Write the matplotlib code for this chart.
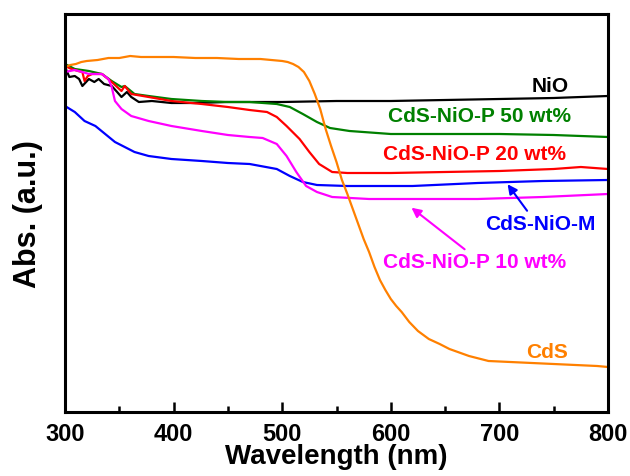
import matplotlib
matplotlib.use("Agg")
import matplotlib.pyplot as plt
from matplotlib.ticker import MultipleLocator

plt.rcParams['font.family'] = ['Liberation Sans', 'DejaVu Sans']
plt.rcParams['font.weight'] = 'bold'

# UV-vis absorption spectra (arbitrary units)
wl_cds = [300, 305, 310, 315, 320, 330, 340, 350, 360, 370, 380, 400, 420, 440, 460, 480,
          490, 500, 505, 510, 515, 520, 525, 530, 535, 540, 545, 550, 555, 560, 565, 570,
          575, 580, 585, 590, 595, 600, 605, 610, 617, 625, 635, 645, 654, 672, 690, 710,
          730, 750, 770, 790, 800]
abs_cds = [3.45, 3.47, 3.48, 3.50, 3.51, 3.52, 3.54, 3.54, 3.56, 3.55, 3.55, 3.55, 3.54, 3.54, 3.53, 3.53,
           3.52, 3.51, 3.50, 3.48, 3.45, 3.40, 3.31, 3.18, 3.03, 2.83, 2.66, 2.50, 2.32, 2.18, 2.03, 1.88,
           1.73, 1.60, 1.45, 1.32, 1.22, 1.13, 1.06, 1.00, 0.90, 0.81, 0.73, 0.68, 0.63, 0.56, 0.51, 0.50,
           0.49, 0.48, 0.47, 0.46, 0.45]

wl_nio = [300, 304, 309, 313, 316, 322, 327, 331, 336, 343, 348, 352, 357, 361, 368, 380,
          398, 420, 450, 500, 550, 600, 650, 700, 750, 800]
abs_nio = [3.45, 3.35, 3.36, 3.33, 3.26, 3.33, 3.30, 3.33, 3.28, 3.26, 3.20, 3.15, 3.20, 3.15, 3.10, 3.11,
           3.09, 3.09, 3.10, 3.10, 3.11, 3.11, 3.12, 3.13, 3.14, 3.16]

wl_p50 = [300, 309, 322, 334, 343, 352, 355, 364, 377, 398, 426, 450, 470, 495, 507, 519,
          532, 544, 562, 600, 700, 750, 800]
abs_p50 = [3.48, 3.43, 3.41, 3.38, 3.31, 3.25, 3.26, 3.18, 3.16, 3.13, 3.11, 3.10, 3.10, 3.08, 3.05, 2.98,
           2.90, 2.84, 2.81, 2.78, 2.78, 2.77, 2.75]

wl_p20 = [300, 306, 312, 316, 318, 321, 325, 334, 343, 352, 355, 361, 377, 398, 426, 450,
          470, 486, 495, 504, 516, 525, 534, 546, 560, 600, 650, 700, 750, 775, 800]
abs_p20 = [3.46, 3.43, 3.41, 3.40, 3.31, 3.36, 3.38, 3.38, 3.30, 3.21, 3.26, 3.18, 3.15, 3.11, 3.08, 3.05,
           3.02, 3.00, 2.95, 2.86, 2.73, 2.60, 2.48, 2.40, 2.39, 2.39, 2.40, 2.41, 2.43, 2.45, 2.43]

wl_m = [300, 309, 318, 328, 337, 346, 355, 364, 377, 398, 426, 450, 470, 495, 507, 519,
        532, 560, 620, 680, 740, 800]
abs_m = [3.06, 3.00, 2.91, 2.86, 2.78, 2.70, 2.65, 2.60, 2.56, 2.53, 2.51, 2.49, 2.48, 2.43, 2.36, 2.30,
         2.27, 2.26, 2.26, 2.29, 2.31, 2.32]

wl_p10 = [300, 309, 316, 322, 334, 340, 343, 346, 352, 361, 377, 398, 426, 450, 470, 482,
          495, 504, 513, 522, 532, 546, 580, 680, 740, 800]
abs_p10 = [3.40, 3.42, 3.40, 3.38, 3.38, 3.33, 3.25, 3.11, 3.03, 2.96, 2.91, 2.86, 2.81, 2.77, 2.75, 2.74,
           2.68, 2.56, 2.40, 2.26, 2.20, 2.15, 2.13, 2.13, 2.15, 2.18]

x_ticks = [300, 400, 500, 600, 700, 800]

fig = plt.figure(figsize=(6.3, 4.77), dpi=100)
ax = fig.add_axes([65 / 630, 64 / 477, 543 / 630, 398 / 477])

lw = 1.6
ax.plot(wl_nio, abs_nio, color='black', lw=lw)
ax.plot(wl_p50, abs_p50, color='#008000', lw=lw)
ax.plot(wl_p20, abs_p20, color='#FF0000', lw=lw)
ax.plot(wl_m, abs_m, color='#0000FF', lw=lw)
ax.plot(wl_p10, abs_p10, color='#FF00FF', lw=lw)
ax.plot(wl_cds, abs_cds, color='#FF8000', lw=lw)

ax.set_xlim(300, 800)
ax.set_ylim(0, 3.98)
ax.set_xticks(x_ticks)
ax.xaxis.set_minor_locator(MultipleLocator(50))
ax.set_yticks([])
ax.tick_params(axis='x', which='major', direction='in', length=7, width=1.8,
               labelsize=17, pad=7)
ax.tick_params(axis='x', which='minor', direction='in', length=4, width=1.8)
for lab in ax.get_xticklabels():
    lab.set_fontweight('bold')
for sp in ax.spines.values():
    sp.set_linewidth(2.2)

ax.set_xlabel('Wavelength (nm)', fontsize=20, fontweight='bold', labelpad=-1)
ax.set_ylabel('Abs. (a.u.)', fontsize=22, fontweight='bold', labelpad=16)

fs = 15
ax.text(746.7, 3.27, 'NiO', color='black', fontsize=fs, fontweight='bold', ha='center', va='center')
ax.text(682, 2.97, 'CdS-NiO-P 50 wt%', color='#008000', fontsize=fs, fontweight='bold', ha='center', va='center')
ax.text(677, 2.58, 'CdS-NiO-P 20 wt%', color='#FF0000', fontsize=fs, fontweight='bold', ha='center', va='center')
ax.text(677, 1.50, 'CdS-NiO-P 10 wt%', color='#FF00FF', fontsize=fs, fontweight='bold', ha='center', va='center')
ax.text(738, 1.88, 'CdS-NiO-M', color='#0000FF', fontsize=fs, fontweight='bold', ha='center', va='center')
ax.text(744, 0.61, 'CdS', color='#FF8000', fontsize=fs, fontweight='bold', ha='center', va='center')

ax.annotate('', xy=(706, 2.30), xytext=(727, 1.99),
            arrowprops=dict(arrowstyle='-|>', color='#0000FF', lw=1.5, mutation_scale=14))
ax.annotate('', xy=(617, 2.06), xytext=(670, 1.61),
            arrowprops=dict(arrowstyle='-|>', color='#FF00FF', lw=1.5, mutation_scale=14))

fig.savefig('out.png', dpi=100)
